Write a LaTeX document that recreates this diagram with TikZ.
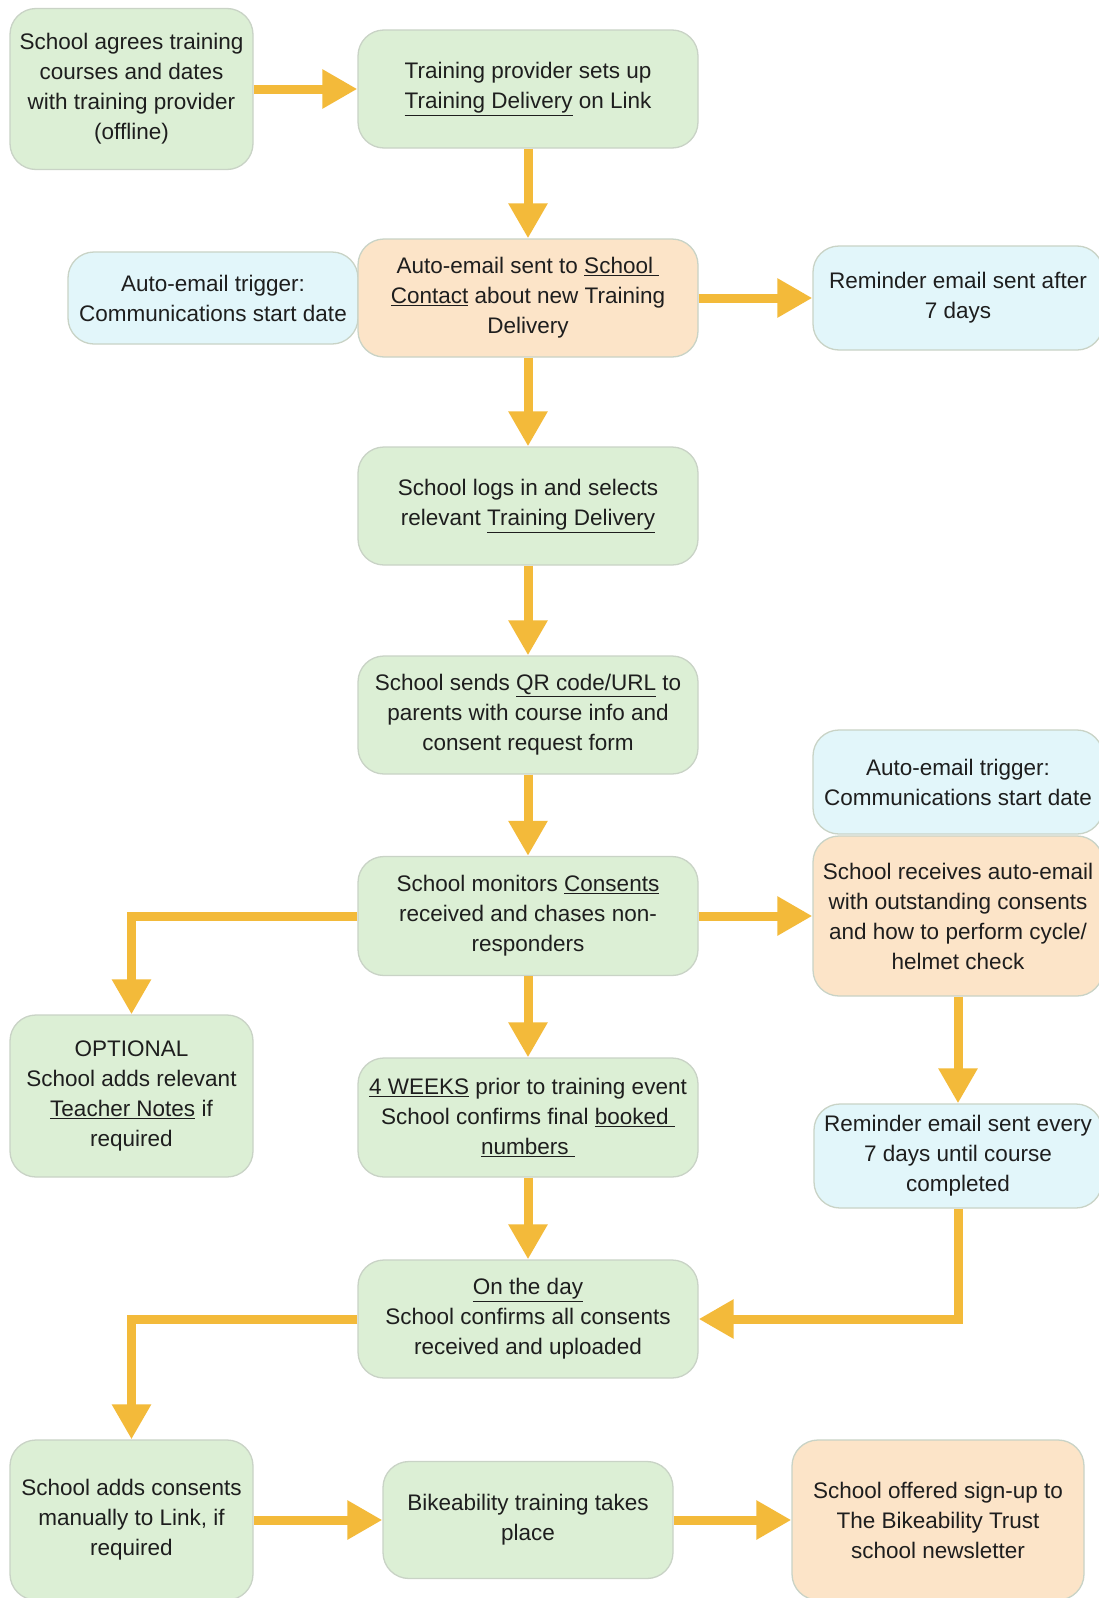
\documentclass[tikz,border=0pt]{standalone}
\usepackage{fontspec}
\setmainfont{Liberation Sans}
\usetikzlibrary{arrows.meta}
\definecolor{gfill}{HTML}{DCEFD5}
\definecolor{ofill}{HTML}{FCE4C8}
\definecolor{bfill}{HTML}{E2F6FA}
\definecolor{bord}{HTML}{C9D3C6}
\definecolor{arr}{HTML}{F3BA3A}
\definecolor{txt}{HTML}{1E1E1E}
\tikzset{
  box/.style={draw=bord, line width=1.3pt, rounded corners=26pt, align=center,
    inner sep=0pt, text=txt, font=\fontsize{22.5}{30}\selectfont},
  gbox/.style={box, fill=gfill},
  obox/.style={box, fill=ofill},
  bbox/.style={box, fill=bfill},
  sz/.style 2 args={minimum width=#1pt, minimum height=#2pt},
  flow/.style={draw=arr, line width=9pt, -{Triangle[length=35pt,width=37pt]}},
}
\newcommand{\ul}[1]{\underline{#1}}
\begin{document}
\begin{tikzpicture}[x=1pt,y=-1pt]
\useasboundingbox[fill=white] (0,0) rectangle (1098,1598);
\node[gbox, sz={243}{161}] (A) at (131.5,89) {School agrees training\\courses and dates\\with training provider\\(offline)};
\node[gbox, sz={340}{118}] (B) at (528,89) {Training provider sets up\\\ul{Training Delivery} on Link};
\node[bbox, sz={290}{92}] (C1) at (213,298) {Auto-email trigger:\\Communications start date};
\node[obox, sz={340}{118}] (C) at (528,298) {Auto-email sent to \ul{School\ }\\\ul{Contact} about new Training\\Delivery};
\node[bbox, sz={290}{104}] (C3) at (958,298) {Reminder email sent after\\7 days};
\node[gbox, sz={340}{118}] (D) at (528,506) {School logs in and selects\\relevant \ul{Training Delivery}};
\node[gbox, sz={340}{118}] (E) at (528,715) {School sends \ul{QR code/URL} to\\parents with course info and\\consent request form};
\node[gbox, sz={340}{119}] (F) at (528,916) {School monitors \ul{Consents}\\received and chases non-\\responders};
\node[bbox, sz={290}{104}] (F1) at (958,782) {Auto-email trigger:\\Communications start date};
\node[obox, sz={290}{160}] (F2) at (958,916) {School receives auto-email\\with outstanding consents\\and how to perform cycle/\\helmet check};
\node[gbox, sz={243}{162}] (G) at (131.5,1096) {OPTIONAL\\School adds relevant\\\ul{Teacher Notes} if\\required};
\node[gbox, sz={340}{119}] (H) at (528,1117.5) {\ul{4 WEEKS} prior to training event\\School confirms final \ul{booked\ }\\\ul{numbers\ }};
\node[bbox, sz={288}{104}] (I) at (958,1156) {Reminder email sent every\\7 days until course\\completed};
\node[gbox, sz={340}{118}] (J) at (528,1319) {\ul{On the day}\\School confirms all consents\\received and uploaded};
\node[gbox, sz={243}{160}] (K) at (131.5,1520) {School adds consents\\manually to Link, if\\required};
\node[gbox, sz={290}{117}] (L) at (528,1520) {Bikeability training takes\\place};
\node[obox, sz={292}{160}] (M) at (938,1520) {School offered sign-up to\\The Bikeability Trust\\school newsletter};
\draw[flow] (A.east) -- (B.west);
\draw[flow] (B) -- (C);
\draw[flow] (C.east) -- (C3.west);
\draw[flow] (C) -- (D);
\draw[flow] (D) -- (E);
\draw[flow] (E) -- (F);
\draw[flow] (F.east) -- (F2.west);
\draw[flow] (F.west) -| (G.north);
\draw[flow] (F) -- (H);
\draw[flow] (F2.south) -- (I.north);
\draw[flow] (H) -- (J);
\draw[flow] (I.south) |- (J.east);
\draw[flow] (J.west) -| (K.north);
\draw[flow] (K.east) -- (L.west);
\draw[flow] (L.east) -- (M.west);
\end{tikzpicture}
\end{document}
